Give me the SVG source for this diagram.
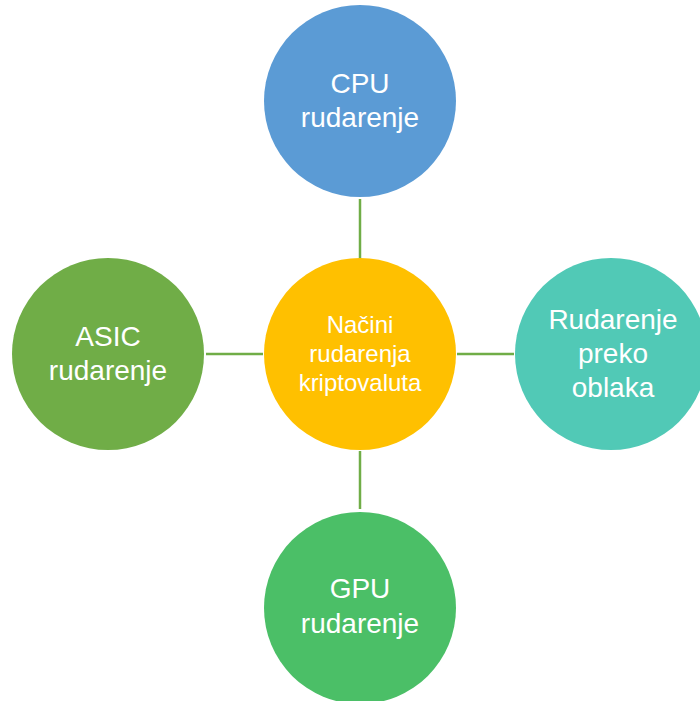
<svg xmlns="http://www.w3.org/2000/svg" width="700" height="701" viewBox="0 0 700 701">
<style>
text{font-family:"Liberation Sans",Arial,sans-serif;fill:#fff;text-anchor:middle}
.big{font-size:28px}
.sm{font-size:24px}
.conn line{stroke:#70AD47;stroke-width:2.5}
</style>
<rect width="700" height="701" fill="#fff"/>
<g class="conn">
<line x1="360" y1="199" x2="360" y2="259"/>
<line x1="360" y1="451" x2="360" y2="509"/>
<line x1="206" y1="354" x2="263" y2="354"/>
<line x1="457" y1="354" x2="514" y2="354"/>
</g>
<g id="center">
<circle cx="360" cy="354" r="96" fill="#FFC000"/>
<text class="sm" x="360" y="333">Načini</text>
<text class="sm" x="360" y="362">rudarenja</text>
<text class="sm" x="360" y="391">kriptovaluta</text>
</g>
<g id="cpu">
<circle cx="360" cy="101" r="96" fill="#5B9BD5"/>
<text class="big" x="360" y="93">CPU</text>
<text class="big" x="360" y="127">rudarenje</text>
</g>
<g id="gpu">
<circle cx="360" cy="608" r="96" fill="#4BBF67"/>
<text class="big" x="360" y="598">GPU</text>
<text class="big" x="360" y="633">rudarenje</text>
</g>
<g id="asic">
<circle cx="108" cy="354" r="96" fill="#70AD47"/>
<text class="big" x="108" y="346">ASIC</text>
<text class="big" x="108" y="380">rudarenje</text>
</g>
<g id="cloud">
<circle cx="611" cy="354" r="96" fill="#51C9B6"/>
<text class="big" x="613" y="329">Rudarenje</text>
<text class="big" x="613" y="363">preko</text>
<text class="big" x="613" y="397">oblaka</text>
</g>
</svg>
